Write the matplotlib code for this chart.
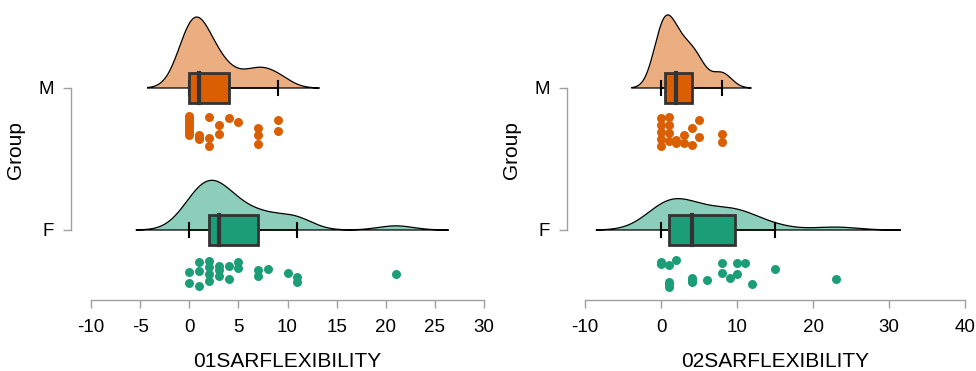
import matplotlib.pyplot as plt
from matplotlib.patches import Polygon, Rectangle
import numpy as np

plt.rcParams['font.family'] = ['Liberation Sans', 'DejaVu Sans']

# 数据：每组的原始值 + 点的纵向抖动（单位：组间距）
groups = ['F', 'M']
labels = ['01SARFLEXIBILITY', '02SARFLEXIBILITY']

m1_vals = [0, 0, 0, 0, 0, 0, 0, 0, 1, 1, 1, 1, 1, 2, 2, 2, 3, 3, 4, 5, 7, 7, 7, 9, 9]
m1_jit = [-0.197, -0.211, -0.232, -0.254, -0.275, -0.296, -0.310, -0.331,
          -0.331, -0.338, -0.345, -0.352, -0.359, -0.204, -0.352, -0.408,
          -0.261, -0.324, -0.211, -0.239, -0.282, -0.331, -0.394, -0.225, -0.303]

f1_vals = [0, 0, 1, 1, 1, 2, 2, 2, 2, 3, 3, 3, 4, 4, 5, 5, 7, 7, 8, 10, 11, 11, 21]
f1_jit = [-0.296, -0.373, -0.225, -0.289, -0.394, -0.218, -0.261, -0.310, -0.359,
          -0.254, -0.324, -0.282, -0.254, -0.345, -0.225, -0.268, -0.282, -0.324,
          -0.275, -0.303, -0.331, -0.366, -0.310]

m2_vals = [0, 0, 0, 0, 0, 1, 1, 1, 1, 2, 2, 3, 3, 4, 4, 5, 5, 8, 8]
m2_jit = [-0.211, -0.261, -0.310, -0.359, -0.408, -0.204, -0.261, -0.317, -0.373,
          -0.366, -0.387, -0.331, -0.387, -0.282, -0.401, -0.225, -0.345, -0.324, -0.380]

f2_vals = [0, 0, 0, 1, 1, 1, 1, 2, 4, 4, 4, 4, 6, 8, 8, 9, 10, 10, 11, 12, 15, 23]
f2_jit = [-0.232, -0.239, -0.225, -0.246, -0.366, -0.401, -0.380, -0.211,
          -0.338, -0.366, -0.352, -0.359, -0.352, -0.232, -0.303, -0.338,
          -0.232, -0.310, -0.232, -0.380, -0.275, -0.345]

xticks1 = [-10, -5, 0, 5, 10, 15, 20, 25, 30]
xticks2 = [-10, 0, 10, 20, 30, 40]

colors = {'M': '#D95F02', 'F': '#1B9E77'}


def nrd0(x):
    x = np.asarray(x, float)
    q75, q25 = np.percentile(x, [75, 25])
    lo = min(np.std(x, ddof=1), (q75 - q25) / 1.34)
    return 0.9 * lo * len(x) ** -0.2


def kde(x):
    x = np.asarray(x, float)
    bw = nrd0(x)
    g = np.linspace(x.min() - 3 * bw, x.max() + 3 * bw, 512)
    d = np.exp(-0.5 * ((g[:, None] - x[None, :]) / bw) ** 2).sum(1)
    d /= len(x) * bw * np.sqrt(2 * np.pi)
    return g, d


def raincloud(ax, data, peak):
    dens = {k: kde(v[0]) for k, v in data.items()}
    scale = peak / max(d.max() for _, d in dens.values())
    for base, grp in enumerate(groups):
        vals, jit = data[grp]
        col = colors[grp]
        g, d = dens[grp]
        xs = np.concatenate([g, g[::-1]])
        ys = np.concatenate([base + d * scale, np.full(len(g), base)])
        ax.add_patch(Polygon(np.column_stack([xs, ys]), closed=True,
                             facecolor=col, alpha=0.5, edgecolor='none', zorder=1))
        ax.plot(xs, ys, color='black', lw=0.9, zorder=1.5)

        v = np.asarray(vals, float)
        q1, med, q3 = np.percentile(v, [25, 50, 75])
        iqr = q3 - q1
        wlo = v[v >= q1 - 1.5 * iqr].min()
        whi = v[v <= q3 + 1.5 * iqr].max()
        h, c = 0.106, 0.046
        ax.plot([wlo, q1], [base, base], color='black', lw=1.1, zorder=2)
        ax.plot([q3, whi], [base, base], color='black', lw=1.1, zorder=2)
        for w in (wlo, whi):
            ax.plot([w, w], [base - c, base + c], color='black', lw=1.5, zorder=2)
        ax.add_patch(Rectangle((q1, base - h), q3 - q1, 2 * h, facecolor=col,
                               edgecolor='#333333', lw=2.0, zorder=3))
        ax.plot([med, med], [base - h, base + h], color='#333333', lw=3.0, zorder=3.5)

        ax.scatter(vals, base + np.asarray(jit), s=42, color=col, lw=0, zorder=4)


fig = plt.figure(figsize=(9.76, 3.71), dpi=100)
W, H = 976, 371


def make_axes(x0, x1):
    return fig.add_axes([x0 / W, 1 - 300 / H, (x1 - x0) / W, 300 / H])


ax1 = make_axes(71, 490)
ax2 = make_axes(567, 970)

raincloud(ax1, {'M': (m1_vals, m1_jit), 'F': (f1_vals, f1_jit)}, 0.50)
raincloud(ax2, {'M': (m2_vals, m2_jit), 'F': (f2_vals, f2_jit)}, 0.515)

ylim = (-70 / 142, 1 + 88 / 142)
for ax, ticks, lab, xlim in [(ax1, xticks1, labels[0], (-12.04, 30.61)),
                             (ax2, xticks2, labels[1], (-12.4, 40.66))]:
    ax.set_xlim(*xlim)
    ax.set_ylim(*ylim)
    ax.set_xticks(ticks)
    ax.set_xticklabels([str(t) for t in ticks])
    ax.set_yticks([0, 1])
    ax.set_yticklabels(groups)
    for s in ['top', 'right']:
        ax.spines[s].set_visible(False)
    ax.spines['bottom'].set_bounds(ticks[0], ticks[-1])
    ax.spines['left'].set_bounds(0, 1)
    for s in ['bottom', 'left']:
        ax.spines[s].set_color('#a0a0a0')
        ax.spines[s].set_linewidth(1.0)
    ax.tick_params(axis='x', length=6, width=1, color='#a0a0a0', pad=8, labelsize=13.5)
    ax.tick_params(axis='y', length=6, width=1, color='#a0a0a0', pad=6, labelsize=13.5)
    ax.set_ylabel('Group', fontsize=15, labelpad=10)
    ax.set_xlabel(lab, fontsize=15)
    xmid = (ticks[0] + ticks[-1]) / 2
    ax.xaxis.set_label_coords((xmid - xlim[0]) / (xlim[1] - xlim[0]), -0.172)

plt.savefig('out.png', dpi=100)
